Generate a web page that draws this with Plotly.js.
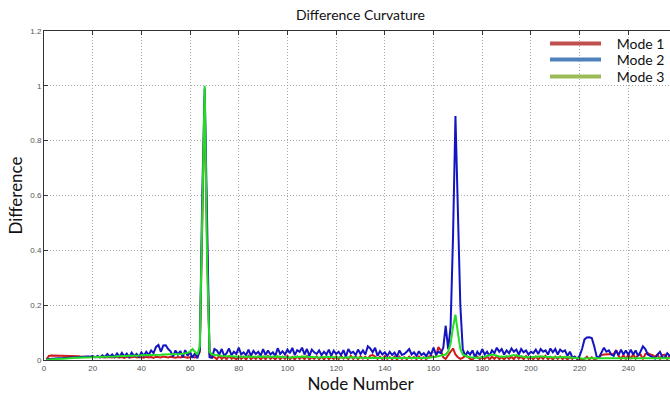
<!DOCTYPE html>
<html>
<head>
<meta charset="utf-8">
<script src="https://cdn.plot.ly/plotly-3.0.1.min.js"></script>
<style>
html,body{margin:0;padding:0;overflow:hidden;background:#fff;}
#chart{width:700px;height:396px;}
</style>
</head>
<body>
<div id="chart"></div>
<script>
// Mode 1 (red)
const mode1 = [
0.002,0.015,0.016,0.016,0.016,0.016,0.016,0.016,0.015,0.016,
0.015,0.015,0.014,0.014,0.013,0.013,0.012,0.012,0.011,0.011,
0.011,0.010,0.012,0.010,0.009,0.011,0.010,0.009,0.012,0.010,
0.009,0.011,0.008,0.012,0.009,0.010,0.013,0.009,0.011,0.010,
0.008,0.012,0.009,0.011,0.008,0.012,0.010,0.009,0.013,0.011,
0.009,0.012,0.010,0.008,0.011,0.009,0.012,0.010,0.008,0.010,
0.012,0.009,0.011,0.030,0.450,0.960,0.400,0.020,0.012,0.010,
0.003,0.015,0.004,0.012,0.003,0.014,0.005,0.010,0.002,0.013,
0.004,0.012,0.002,0.015,0.003,0.011,0.004,0.013,0.002,0.012,
0.003,0.014,0.004,0.011,0.002,0.013,0.003,0.012,0.004,0.015,
0.003,0.011,0.002,0.013,0.004,0.012,0.003,0.014,0.002,0.011,
0.004,0.013,0.003,0.012,0.002,0.014,0.003,0.011,0.004,0.013,
0.003,0.015,0.005,0.012,0.003,0.016,0.004,0.013,0.003,0.014,
0.005,0.012,0.004,0.016,0.018,0.013,0.004,0.012,0.003,0.014,
0.004,0.011,0.003,0.013,0.002,0.012,0.004,0.010,0.003,0.012,
0.005,0.011,0.003,0.013,0.004,0.010,0.003,0.012,0.015,0.010,
0.012,0.047,0.035,0.010,0.004,0.015,0.030,0.042,0.020,0.010,
0.004,0.008,0.015,0.012,0.004,0.002,0.010,0.012,0.003,0.011,
0.004,0.013,0.002,0.012,0.004,0.014,0.003,0.011,0.002,0.013,
0.004,0.012,0.003,0.016,0.005,0.012,0.003,0.014,0.004,0.011,
0.003,0.013,0.002,0.012,0.004,0.015,0.003,0.011,0.002,0.012,
0.004,0.013,0.003,0.011,0.002,0.010,0.004,0.012,0.003,0.005,
0.002,0.004,0.012,0.002,0.010,0.003,0.005,0.010,0.018,0.020,
0.020,0.021,0.020,0.022,0.036,0.015,0.004,0.018,0.003,0.020,
0.004,0.022,0.005,0.018,0.020,0.003,0.022,0.025,0.020,0.018,
0.012,0.020,0.004,0.018,0.020,0.003,0.016,0.020,0.018,0.019,0.020,0.020
];
// Mode 2 (blue)
const mode2 = [
0.003,0.004,0.004,0.005,0.005,0.006,0.006,0.007,0.007,0.008,
0.008,0.009,0.010,0.010,0.011,0.012,0.012,0.013,0.012,0.014,
0.010,0.015,0.009,0.017,0.011,0.022,0.012,0.020,0.010,0.024,
0.012,0.026,0.013,0.023,0.011,0.027,0.014,0.022,0.012,0.028,
0.015,0.030,0.018,0.035,0.025,0.048,0.055,0.030,0.053,0.054,
0.040,0.032,0.012,0.035,0.020,0.033,0.010,0.036,0.015,0.030,
0.008,0.025,0.006,0.040,0.600,0.990,0.500,0.010,0.008,0.040,
0.035,0.020,0.040,0.015,0.025,0.042,0.018,0.030,0.022,0.045,
0.020,0.028,0.018,0.038,0.015,0.033,0.022,0.030,0.016,0.040,
0.018,0.035,0.020,0.028,0.015,0.043,0.022,0.032,0.020,0.038,
0.025,0.044,0.018,0.036,0.030,0.045,0.020,0.040,0.015,0.038,
0.028,0.022,0.035,0.018,0.030,0.020,0.038,0.015,0.034,0.022,
0.030,0.018,0.036,0.012,0.040,0.025,0.030,0.018,0.038,0.022,
0.035,0.020,0.050,0.042,0.028,0.045,0.015,0.032,0.020,0.028,
0.015,0.030,0.018,0.027,0.012,0.035,0.018,0.022,0.030,0.040,
0.020,0.028,0.015,0.032,0.018,0.025,0.014,0.030,0.020,0.045,
0.020,0.030,0.025,0.045,0.125,0.040,0.120,0.450,0.890,0.550,
0.200,0.040,0.015,0.030,0.020,0.035,0.010,0.030,0.018,0.040,
0.020,0.030,0.015,0.035,0.025,0.045,0.030,0.040,0.020,0.035,
0.025,0.042,0.030,0.038,0.020,0.040,0.028,0.035,0.020,0.030,
0.025,0.038,0.022,0.040,0.030,0.035,0.020,0.042,0.028,0.040,
0.020,0.038,0.030,0.035,0.015,0.030,0.010,0.012,0.005,0.015,
0.040,0.075,0.082,0.083,0.080,0.050,0.012,0.010,0.030,0.045,
0.030,0.035,0.020,0.015,0.035,0.018,0.038,0.020,0.035,0.018,
0.038,0.020,0.035,0.015,0.030,0.050,0.040,0.020,0.015,0.010,
0.005,0.020,0.030,0.010,0.008,0.025,0.015,0.020,0.018,0.022,0.020,0.020
];
// Mode 3 (green)
const mode3 = [
0.001,0.002,0.003,0.003,0.004,0.004,0.005,0.005,0.006,0.006,
0.007,0.007,0.008,0.008,0.008,0.009,0.009,0.010,0.010,0.010,
0.011,0.011,0.011,0.012,0.012,0.012,0.013,0.013,0.013,0.014,
0.014,0.014,0.015,0.015,0.015,0.016,0.016,0.016,0.016,0.017,
0.017,0.017,0.018,0.018,0.018,0.019,0.019,0.019,0.020,0.020,
0.020,0.021,0.021,0.021,0.022,0.022,0.023,0.024,0.026,0.030,
0.040,0.030,0.020,0.050,0.500,1.000,0.350,0.030,0.020,0.018,
0.017,0.016,0.015,0.015,0.014,0.014,0.013,0.013,0.013,0.012,
0.012,0.012,0.011,0.011,0.011,0.011,0.010,0.010,0.010,0.010,
0.010,0.010,0.011,0.012,0.013,0.012,0.011,0.010,0.010,0.009,
0.009,0.010,0.011,0.012,0.013,0.014,0.013,0.012,0.011,0.010,
0.010,0.009,0.009,0.010,0.011,0.012,0.012,0.011,0.010,0.009,
0.009,0.008,0.008,0.009,0.010,0.011,0.010,0.009,0.008,0.008,
0.008,0.007,0.007,0.008,0.009,0.008,0.007,0.007,0.006,0.006,
0.006,0.006,0.005,0.005,0.005,0.005,0.005,0.005,0.005,0.005,
0.005,0.005,0.005,0.006,0.006,0.006,0.007,0.008,0.009,0.010,
0.012,0.014,0.016,0.018,0.020,0.030,0.060,0.120,0.165,0.100,
0.040,0.020,0.015,0.012,0.010,0.009,0.008,0.008,0.009,0.010,
0.012,0.015,0.018,0.020,0.018,0.015,0.013,0.012,0.012,0.013,
0.014,0.016,0.018,0.016,0.014,0.012,0.011,0.010,0.010,0.010,
0.011,0.012,0.013,0.014,0.013,0.012,0.011,0.010,0.009,0.009,
0.010,0.011,0.012,0.011,0.010,0.009,0.008,0.007,0.006,0.005,
0.005,0.005,0.006,0.006,0.006,0.007,0.007,0.007,0.007,0.007,
0.007,0.007,0.007,0.007,0.007,0.007,0.007,0.007,0.007,0.007,
0.007,0.007,0.007,0.006,0.006,0.006,0.006,0.006,0.006,0.006,
0.006,0.006,0.006,0.006,0.006,0.006,0.006,0.006,0.006,0.006,0.006,0.006
];
const nodes = mode1.map((_, i) => i + 1);
const seriesNames = ['Mode 1', 'Mode 2', 'Mode 3'];
const xTicks = [0,20,40,60,80,100,120,140,160,180,200,220,240,260];
const yTicks = [0,0.2,0.4,0.6,0.8,1,1.2];

const lineColors = ['#d01818', '#1414c0', '#22dd22'];
const legendColors = ['#c0504d', '#4f81bd', '#9bbb59'];
const seriesData = [mode1, mode2, mode3];
const legendIds = ['legend', 'legend2', 'legend3'];

const traces = [];
[0,1,2].forEach(i => {
  traces.push({
    x: nodes, y: seriesData[i], type: 'scatter', mode: 'lines',
    line: {color: lineColors[i], width: 2}, showlegend: false, hoverinfo: 'skip'
  });
});
[0,1,2].forEach(i => {
  traces.push({
    x: [null], y: [null], type: 'scatter', mode: 'lines',
    name: '\u00a0\u00a0\u00a0' + seriesNames[i], legend: legendIds[i],
    line: {color: legendColors[i], width: 4}, showlegend: true
  });
});

const axisCommon = {
  showline: true, linecolor: '#333', linewidth: 1, mirror: 'ticks',
  ticks: 'inside', ticklen: 4, tickcolor: '#333',
  showgrid: true, gridcolor: '#a8a8a8', griddash: '1px,2px', gridwidth: 1,
  zeroline: false, tickfont: {family: 'Liberation Sans, Arial', size: 8, color: '#555'}
};

const legendBase = {xref: 'paper', yref: 'paper', x: 0.7915, xanchor: 'left', yanchor: 'middle',
  bgcolor: 'rgba(0,0,0,0)', borderwidth: 0,
  font: {family: 'Lato', size: 14, color: '#111'}, itemwidth: 51};

const layout = {
  width: 700, height: 396,
  margin: {l: 44, r: 23, t: 31, b: 36},
  paper_bgcolor: '#fff', plot_bgcolor: '#fff',
  title: {text: 'Difference Curvature', font: {family: 'Lato', size: 14, color: '#111'},
          x: 0.5, xref: 'paper', y: 1 - 15/396, yref: 'container', yanchor: 'middle'},
  xaxis: Object.assign({}, axisCommon, {
    range: [0, 260], tickvals: xTicks, ticktext: xTicks.map(String),
    title: {text: 'Node Number', font: {family: 'Lato', size: 17, color: '#111'}, standoff: 6}
  }),
  yaxis: Object.assign({}, axisCommon, {
    range: [0, 1.2], tickvals: yTicks, ticktext: yTicks.map(String),
    title: {text: 'Difference', font: {family: 'Lato', size: 17, color: '#111'}, standoff: 3}
  }),
  showlegend: true,
  legend: Object.assign({}, legendBase, {y: (360 - 44) / 329}),
  legend2: Object.assign({}, legendBase, {y: (360 - 60) / 329}),
  legend3: Object.assign({}, legendBase, {y: (360 - 77) / 329})
};

Plotly.newPlot('chart', traces, layout, {displayModeBar: false, staticPlot: true});
</script>
</body>
</html>
